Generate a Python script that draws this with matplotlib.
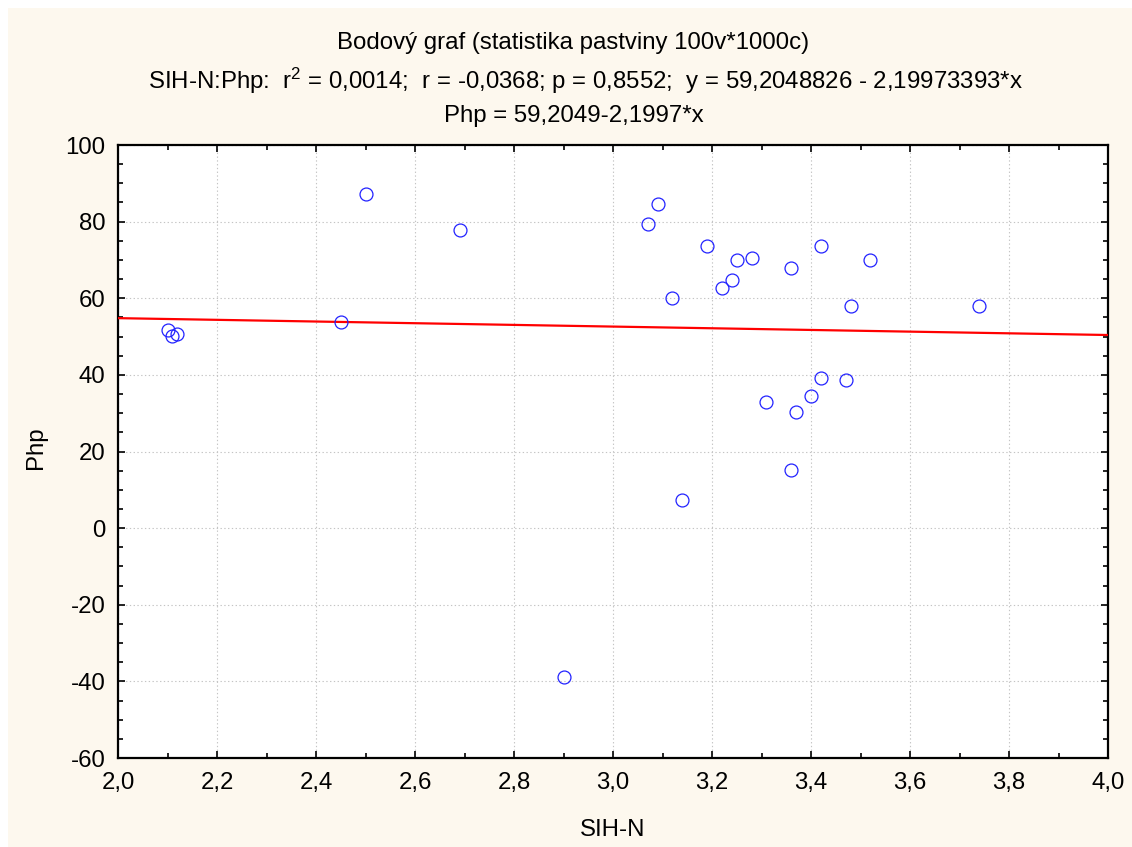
import matplotlib
matplotlib.use("Agg")
import matplotlib.pyplot as plt
from matplotlib.patches import Rectangle
from matplotlib.ticker import MultipleLocator, FuncFormatter

plt.rcParams["font.family"] = ["Liberation Sans", "DejaVu Sans"]
plt.rcParams["mathtext.fontset"] = "custom"
plt.rcParams["mathtext.rm"] = "Liberation Sans"
plt.rcParams["mathtext.default"] = "regular"

# data
sih_n = [2.10, 2.11, 2.12, 2.45, 2.50, 2.69, 2.90, 3.07, 3.09, 3.12, 3.14,
         3.19, 3.22, 3.24, 3.25, 3.28, 3.31, 3.36, 3.36, 3.37, 3.40, 3.42,
         3.42, 3.47, 3.48, 3.52, 3.74]
php = [51.7, 50.1, 50.6, 53.8, 87.2, 77.8, -38.9, 79.4, 84.6, 60.1, 7.3,
       73.6, 62.7, 64.8, 70.0, 70.5, 32.9, 67.9, 15.1, 30.3, 34.5, 73.6,
       39.2, 38.6, 58.0, 70.0, 58.0]
intercept = 59.2048826
slope = -2.19973393
x_limits = [2.0, 4.0]
y_limits = [-60, 100]

title_lines = [
    "Bodový graf (statistika pastviny 100v*1000c)",
    "SIH-N:Php:  r$^2$ = 0,0014;  r = -0,0368; p = 0,8552;  y = 59,2048826 - 2,19973393*x",
    "Php = 59,2049-2,1997*x",
]

FS = 17.3

fig = plt.figure(figsize=(11.32, 8.47), dpi=100)
fig.patch.set_facecolor("white")
fig.patches.append(Rectangle((8 / 1132, 0), 1, 1 - 8 / 847, transform=fig.transFigure,
                             facecolor="#fdf8ee", edgecolor="none", zorder=-10))

ax = fig.add_axes([118 / 1132, 89 / 847, 990 / 1132, 613 / 847])
ax.set_facecolor("white")

line_x = x_limits
line_y = [intercept + slope * v for v in line_x]
ax.plot(line_x, line_y, color="#ff0000", linewidth=1.6, zorder=3)
ax.plot(sih_n, php, linestyle="none", marker="o", markersize=9.3,
        markerfacecolor="none", markeredgecolor="#2222ff", markeredgewidth=0.9, zorder=4)

ax.set_xlim(x_limits)
ax.set_ylim(y_limits)
ax.xaxis.set_major_locator(MultipleLocator(0.2))
ax.xaxis.set_minor_locator(MultipleLocator(0.1))
ax.yaxis.set_major_locator(MultipleLocator(20))
ax.yaxis.set_minor_locator(MultipleLocator(5))
ax.xaxis.set_major_formatter(FuncFormatter(lambda v, p: f"{v:.1f}".replace(".", ",")))
ax.yaxis.set_major_formatter(FuncFormatter(lambda v, p: f"{v:.0f}"))

ax.grid(True, which="major", linestyle=(0, (1.2, 2.2)), color="#c4c4c4", linewidth=0.8)
ax.tick_params(which="both", direction="in", top=True, right=True, width=1.2, color="black")
ax.tick_params(which="major", length=5, labelsize=FS)
ax.tick_params(axis="x", which="major", pad=10)
ax.tick_params(axis="y", which="major", pad=9)
ax.tick_params(which="minor", length=3.5)
for s in ax.spines.values():
    s.set_linewidth(1.6)

ax.set_xlabel("SIH-N", fontsize=FS)
ax.xaxis.set_label_coords(0.5, -(830 - 758) / 613, transform=ax.transAxes)
ax.xaxis.label.set_va("center")
ax.set_ylabel("Php", fontsize=FS)
ax.yaxis.set_label_coords(-(118 - 36) / 990, (758 - 448) / 613, transform=ax.transAxes)
ax.yaxis.label.set_va("center")

for text, xpx, ypx in zip(title_lines, [573, 585, 574], [43, 81, 116]):
    fig.text(xpx / 1132, 1 - ypx / 847, text, ha="center", va="center", fontsize=FS)

fig.savefig("out.png", dpi=100, facecolor=fig.get_facecolor())
